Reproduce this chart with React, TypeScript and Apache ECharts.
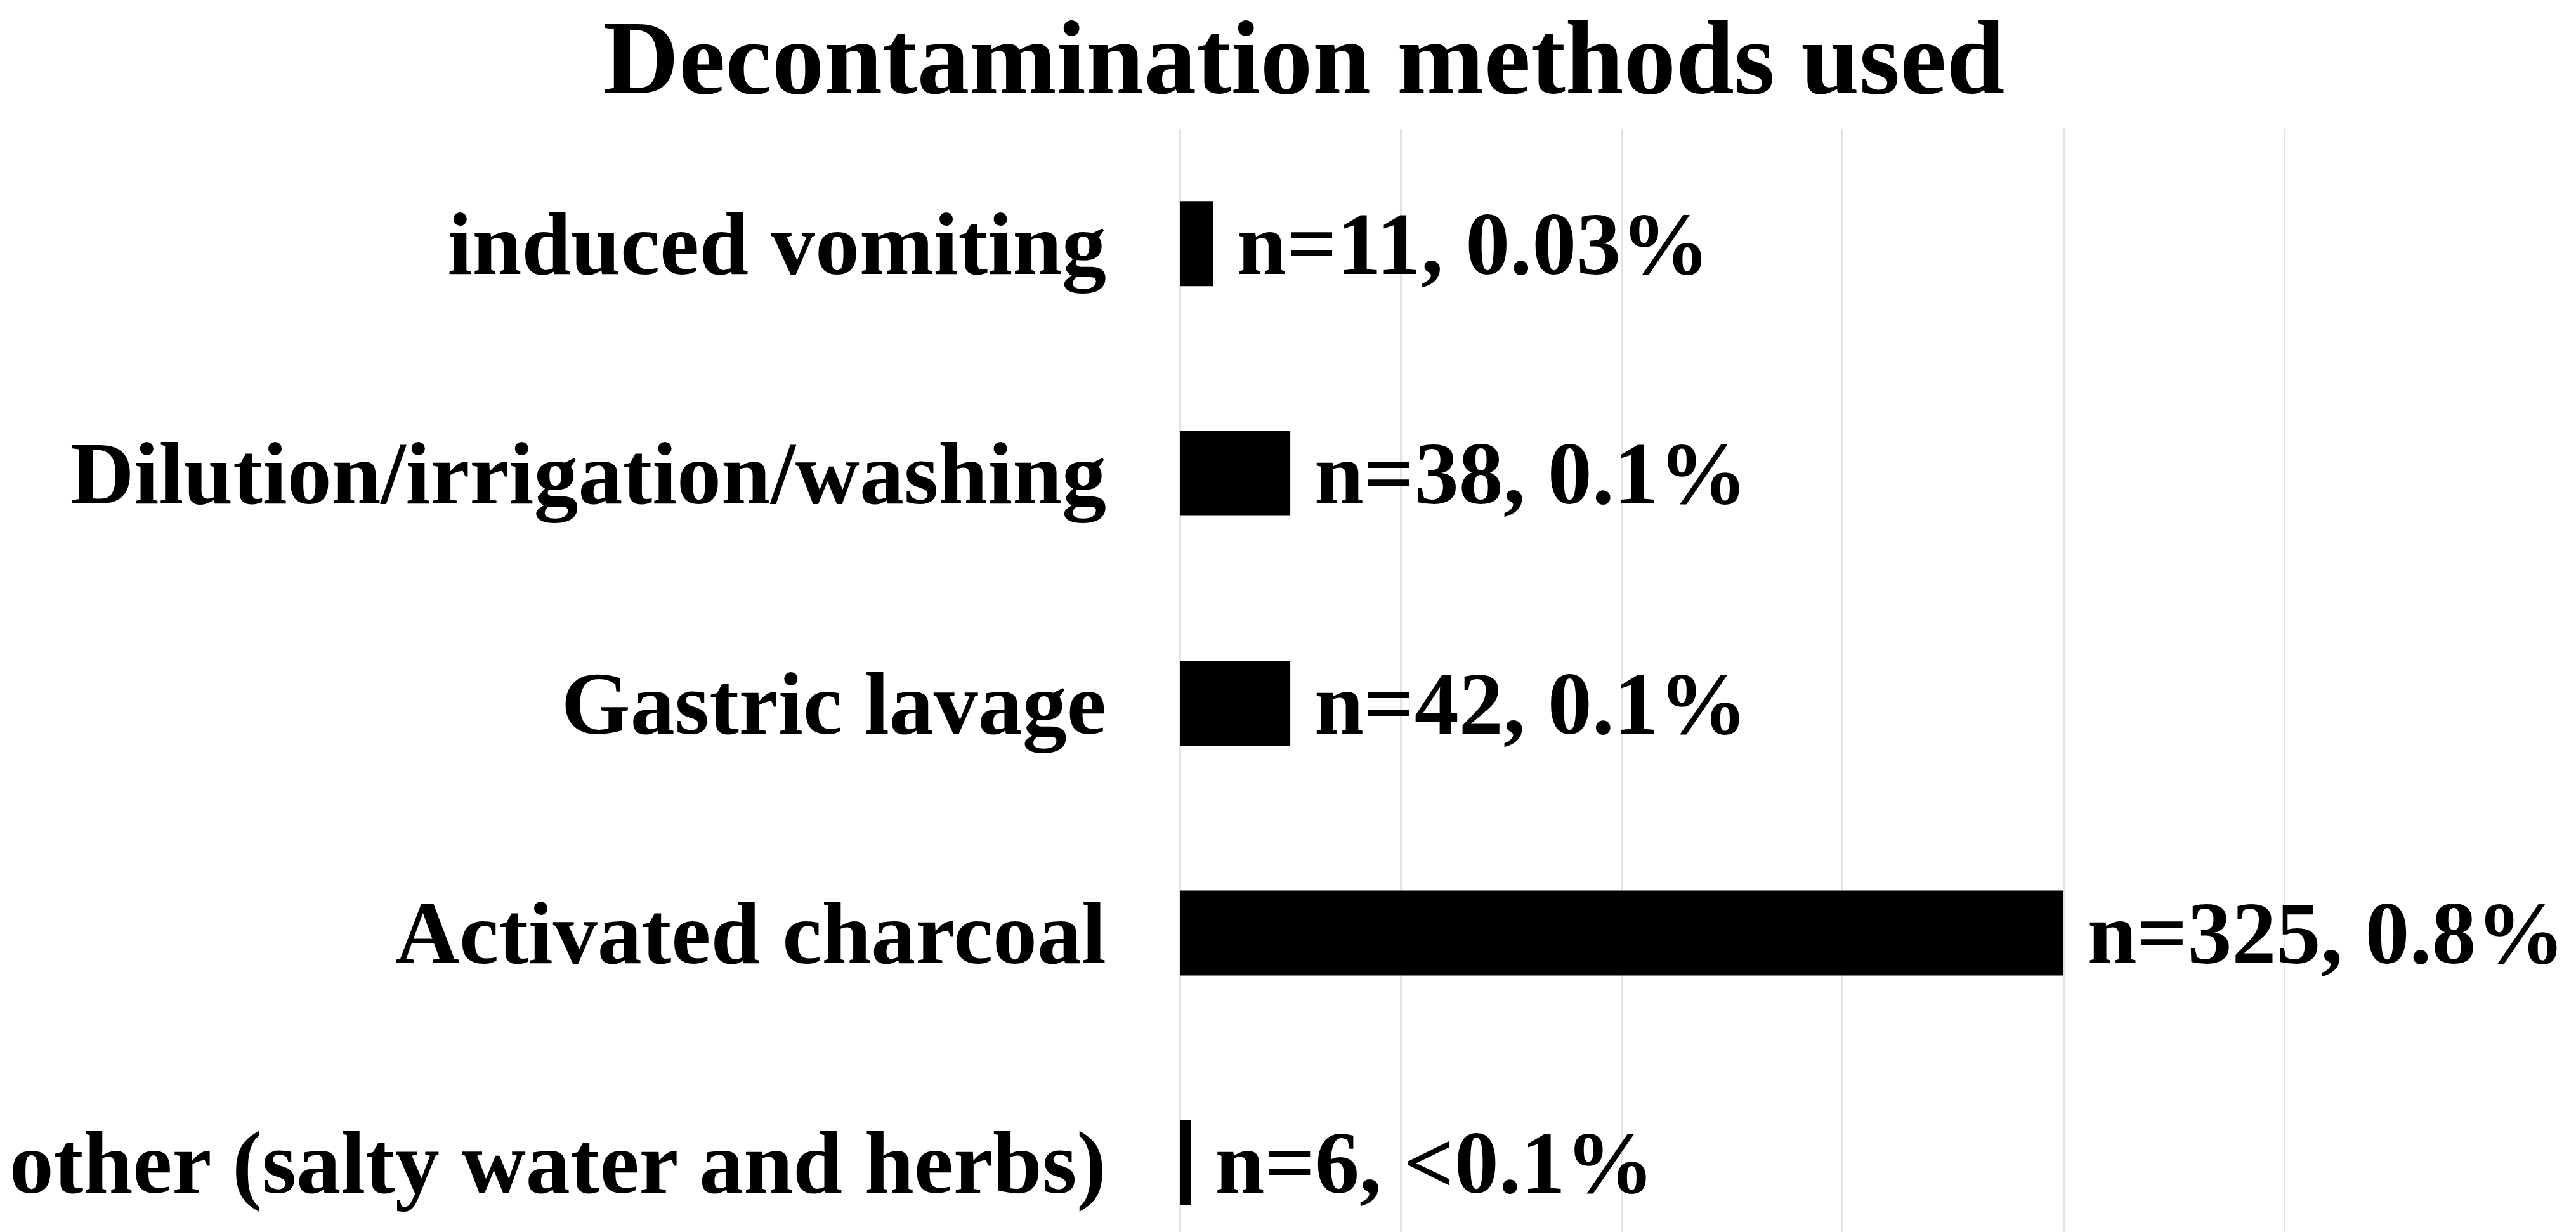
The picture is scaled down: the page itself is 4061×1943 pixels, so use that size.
import { useEffect, useRef } from 'react'
import * as echarts from 'echarts'

// categories, top to bottom
const methods = [
  'induced vomiting',
  'Dilution/irrigation/washing',
  'Gastric lavage',
  'Activated charcoal',
  'other (salty water and herbs)',
]
// bar lengths (percent of cases)
const percents = [0.03, 0.1, 0.1, 0.8, 0.01]
// value labels as printed next to the bars
const valueLabels = ['n=11, 0.03%', 'n=38, 0.1%', 'n=42, 0.1%', 'n=325, 0.8%', 'n=6, <0.1%']

const font = '"Liberation Serif", "Times New Roman", serif'

export default function App() {
  const chartRef = useRef<HTMLDivElement>(null)

  useEffect(() => {
    if (!chartRef.current) return
    const chart = echarts.init(chartRef.current, undefined, { renderer: 'svg' })

    const option: echarts.EChartsOption = {
      animation: false,
      backgroundColor: '#ffffff',
      title: {
        text: 'Decontamination methods used',
        left: 946,
        top: 4,
        textStyle: { fontFamily: font, fontWeight: 'bold', fontSize: 165, color: '#000' },
      },
      // fixed plot box, no auto-shrink to fit labels
      grid: { left: 1860, top: 203, width: 1741, height: 1812, outerBoundsMode: 'none' } as any,
      xAxis: {
        type: 'value',
        min: 0,
        max: 1,
        interval: 0.2,
        axisLabel: { show: false },
        axisLine: { show: false },
        axisTick: { show: false },
        splitLine: { lineStyle: { color: '#e3e3e3', width: 3 } },
      },
      yAxis: {
        type: 'category',
        data: methods,
        inverse: true,
        axisLine: { show: false },
        axisTick: { show: false },
        axisLabel: {
          margin: 116,
          fontFamily: font,
          fontWeight: 'bold',
          fontSize: 140,
          color: '#000',
        },
      },
      series: [
        {
          type: 'bar',
          data: percents,
          barWidth: 134,
          itemStyle: { color: '#000', borderColor: '#000', borderWidth: 2 },
          label: {
            show: true,
            position: 'right',
            distance: 38,
            fontFamily: font,
            fontWeight: 'bold',
            fontSize: 140,
            color: '#000',
            formatter: (p: any) => valueLabels[p.dataIndex],
          },
        },
      ],
    }

    chart.setOption(option)
    return () => chart.dispose()
  }, [])

  return (
    <div
      ref={chartRef}
      style={{ position: 'fixed', left: 0, top: 0, width: 4061, height: 1943 }}
    />
  )
}
